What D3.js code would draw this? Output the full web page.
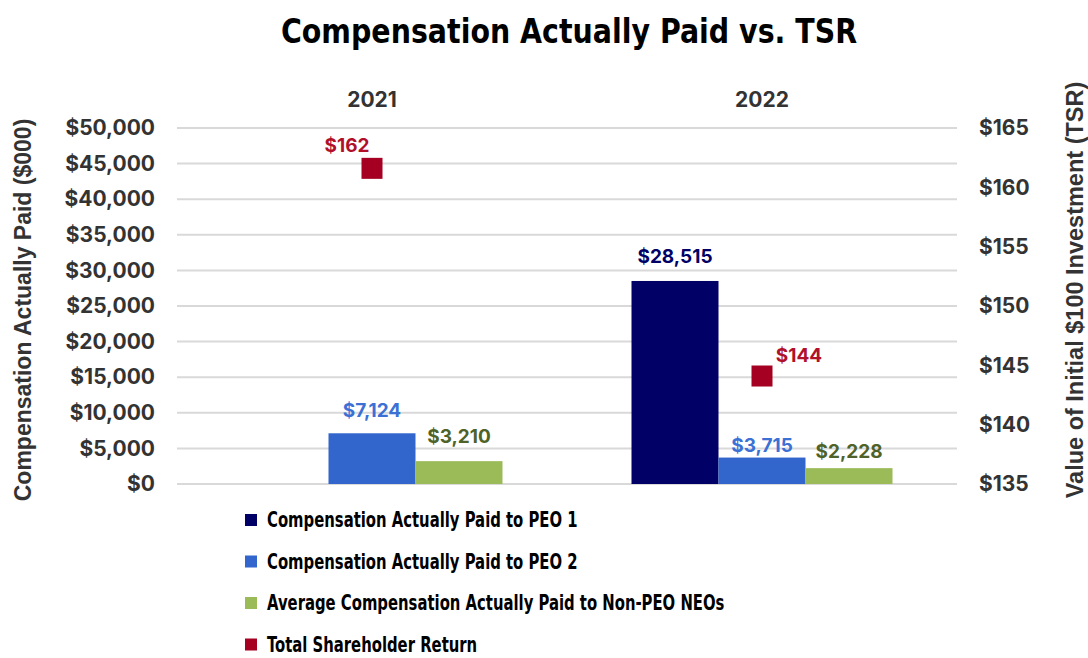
<!DOCTYPE html>
<html>
<head>
<meta charset="utf-8">
<script src="https://cdn.jsdelivr.net/npm/d3@7"></script>
<style>
  body { margin: 0; background: #fff; }
  text { font-family: Inter, "Liberation Sans", Arial, sans-serif; font-weight: bold; }
  .narrow { font-family: "Liberation Sans Narrow", "Arial Narrow", "DejaVu Sans Condensed", sans-serif; font-stretch: condensed; }
  .arial { font-family: "Liberation Sans", Arial, sans-serif; }
</style>
</head>
<body>
<div id="vis"></div>
<script>
// data
const years = ["2021", "2022"]
const peo1 = [null, 28515]
const peo2 = [7124, 3715]
const nonPeo = [3210, 2228]
const tsr = [161.6, 144.1]
const leftTicks = [0, 5000, 10000, 15000, 20000, 25000, 30000, 35000, 40000, 45000, 50000]
const rightTicks = [135, 140, 145, 150, 155, 160, 165]
const legendLabels = [
  "Compensation Actually Paid to PEO 1",
  "Compensation Actually Paid to PEO 2",
  "Average Compensation Actually Paid to Non-PEO NEOs",
  "Total Shareholder Return"
]

// look
const colors = {peo1: "#000066", peo2: "#3366CC", nonPeo: "#9BBB59", tsr: "#A50021"}
const labelColors = {peo1: "#000066", peo2: "#3B70D4", nonPeo: "#4F6228", tsr: "#B0102A"}
// how far above the bar top each label sits (per year)
const labelLift = {peo1: [16, 18], peo2: [16, 6], nonPeo: [18, 10]}
const tsrLabelDx = [-25, 37]
const tsrLabelDy = [-16, -14]

const W = 1088, H = 658
const plot = {left: 177, right: 957, top: 128, bottom: 484}

const svg = d3.select("#vis").append("svg")
  .attr("width", W).attr("height", H)

const x = d3.scaleBand().domain(years).range([plot.left, plot.right])
const seriesKeys = ["peo1", "peo2", "nonPeo"]
const x1 = d3.scaleBand().domain(seriesKeys).range([64.5, 325.5])
const y = d3.scaleLinear().domain([0, 50000]).range([plot.bottom, plot.top])
const y2 = d3.scaleLinear().domain([135, 165]).range([plot.bottom, plot.top])

const fmt = d3.format("$,")
const fmtTsr = d3.format("$.0f")

// title (condensed face, squeezed a bit to match)
svg.append("text").attr("class", "narrow")
  .attr("transform", "translate(569,43) scale(0.93,1)")
  .attr("text-anchor", "middle")
  .style("font-size", "34px").attr("fill", "#000")
  .text("Compensation Actually Paid vs. TSR")

// gridlines
svg.append("g").selectAll("line")
  .data(leftTicks)
  .join("line")
  .attr("x1", plot.left).attr("x2", plot.right)
  .attr("y1", d => y(d)).attr("y2", d => y(d))
  .attr("stroke", "#d9d9d9").attr("stroke-width", 2)

// left axis
const leftAxis = svg.append("g")
  .attr("transform", `translate(${plot.left},0)`)
  .call(d3.axisLeft(y).tickValues(leftTicks).tickFormat(fmt).tickSize(0).tickPadding(22))
leftAxis.select(".domain").remove()
leftAxis.selectAll("text").style("font-size", "21px").attr("fill", "#333")
  .style("font-family", "Inter, 'Liberation Sans', sans-serif").style("font-weight", "bold")

// right axis
const rightAxis = svg.append("g")
  .attr("transform", `translate(${plot.right},0)`)
  .call(d3.axisRight(y2).tickValues(rightTicks).tickFormat(d3.format("$")).tickSize(0).tickPadding(22))
rightAxis.select(".domain").remove()
rightAxis.selectAll("text").style("font-size", "21px").attr("fill", "#333")
  .style("font-family", "Inter, 'Liberation Sans', sans-serif").style("font-weight", "bold")

// year labels on top
svg.append("g").selectAll("text")
  .data(years)
  .join("text")
  .attr("x", d => x(d) + x.bandwidth() / 2)
  .attr("y", 107)
  .attr("text-anchor", "middle")
  .style("font-size", "21px").attr("fill", "#333")
  .text(d => d)

// axis titles
svg.append("text").attr("class", "arial")
  .attr("transform", "translate(31,310) rotate(-90)")
  .attr("text-anchor", "middle")
  .style("font-size", "23px").attr("fill", "#333")
  .text("Compensation Actually Paid ($000)")

svg.append("text").attr("class", "arial")
  .attr("transform", "translate(1083,290) rotate(-90)")
  .attr("text-anchor", "middle")
  .style("font-size", "23.5px").attr("fill", "#333")
  .text("Value of Initial $100 Investment (TSR)")

// bars
const seriesData = {peo1, peo2, nonPeo}
const bars = []
seriesKeys.forEach(k => {
  seriesData[k].forEach((v, i) => {
    if (v != null) bars.push({key: k, year: years[i], i: i, value: v})
  })
})

svg.append("g").selectAll("rect")
  .data(bars)
  .join("rect")
  .attr("x", d => x(d.year) + x1(d.key))
  .attr("width", x1.bandwidth())
  .attr("y", d => y(d.value))
  .attr("height", d => y(0) - y(d.value))
  .attr("fill", d => colors[d.key])

svg.append("g").selectAll("text")
  .data(bars)
  .join("text")
  .attr("x", d => x(d.year) + x1(d.key) + x1.bandwidth() / 2)
  .attr("y", d => y(d.value) - labelLift[d.key][d.i])
  .attr("text-anchor", "middle")
  .style("font-size", "19px")
  .attr("fill", d => labelColors[d.key])
  .text(d => fmt(d.value))

// TSR markers
const tsrData = tsr.map((v, i) => ({year: years[i], i: i, value: v}))
svg.append("g").selectAll("rect")
  .data(tsrData)
  .join("rect")
  .attr("x", d => x(d.year) + x.bandwidth() / 2 - 10.5)
  .attr("y", d => y2(d.value) - 10.5)
  .attr("width", 21).attr("height", 21)
  .attr("fill", colors.tsr)

svg.append("g").selectAll("text")
  .data(tsrData)
  .join("text")
  .attr("x", d => x(d.year) + x.bandwidth() / 2 + tsrLabelDx[d.i])
  .attr("y", d => y2(d.value) + tsrLabelDy[d.i])
  .attr("text-anchor", "middle")
  .style("font-size", "19px")
  .attr("fill", labelColors.tsr)
  .text(d => fmtTsr(d.value))

// legend
const legendColors = [colors.peo1, colors.peo2, colors.nonPeo, colors.tsr]
const legend = svg.append("g").selectAll("g")
  .data(legendLabels)
  .join("g")
  .attr("transform", (d, i) => `translate(245,${520 + i * 41.5})`)

legend.append("rect")
  .attr("x", 0).attr("y", -6)
  .attr("width", 12).attr("height", 12)
  .attr("fill", (d, i) => legendColors[i])

legend.append("text").attr("class", "narrow")
  .attr("transform", "translate(22,0) scale(0.75,1)")
  .attr("dominant-baseline", "central")
  .style("font-size", "22px").attr("fill", "#000")
  .text(d => d)
</script>
</body>
</html>
